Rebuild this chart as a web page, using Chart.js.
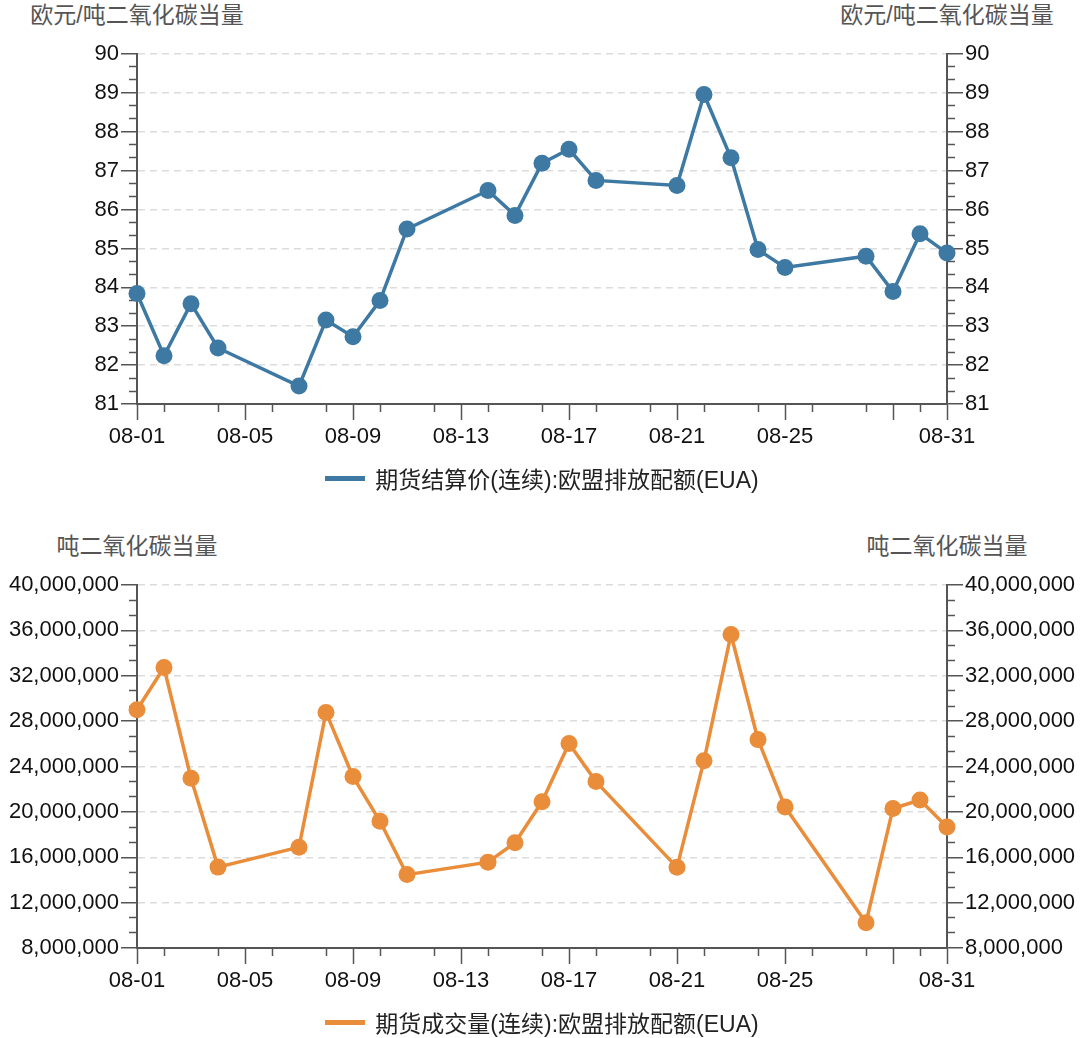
<!DOCTYPE html>
<html><head><meta charset="utf-8">
<script src="https://cdn.jsdelivr.net/npm/chart.js@4/dist/chart.umd.min.js"></script>
<style>
body{margin:0;background:#fff;width:1088px;height:1038px;overflow:hidden;position:relative;font-family:"Liberation Sans","Noto Sans CJK SC",sans-serif}
.unit{position:absolute;font-size:23px;color:#555;transform:translateX(-50%);white-space:nowrap;line-height:23px}
.legend{position:absolute;left:137px;width:810px;height:30px;display:flex;justify-content:center;align-items:center;font-size:23px;color:#222;white-space:nowrap}
.legend .sw{width:40px;height:5px;margin-right:10px}
canvas{position:absolute;left:0}
</style></head>
<body>
<div class="unit" id="u1" style="left:137px;top:4px"></div>
<div class="unit" id="u2" style="left:947px;top:4px"></div>
<div class="unit" id="u3" style="left:137px;top:535px"></div>
<div class="unit" id="u4" style="left:947px;top:535px"></div>
<canvas id="c1" width="1088" height="505" style="top:0"></canvas>
<canvas id="c2" width="1088" height="533" style="top:505px"></canvas>
<div class="legend" id="lg1" style="top:463px"></div>
<div class="legend" id="lg2" style="top:1007px"></div>
<script>
// ---- data ----
const dates = ['08-01','08-02','08-03','08-04','08-07','08-08','08-09','08-10','08-11','08-14','08-15','08-16','08-17','08-18','08-21','08-22','08-23','08-24','08-25','08-28','08-29','08-30','08-31'];
const priceValues = [83.84,82.24,83.58,82.44,81.46,83.16,82.73,83.66,85.50,86.49,85.85,87.19,87.55,86.75,86.62,88.96,87.33,84.97,84.51,84.80,83.89,85.38,84.88];
const volumeValues = [29000000,32730000,22970000,15130000,16890000,28770000,23110000,19170000,14470000,15570000,17280000,20890000,26020000,22670000,15110000,24510000,35640000,26370000,20440000,10230000,20300000,21040000,18670000];
const priceSeriesName = '期货结算价(连续):欧盟排放配额(EUA)';
const volumeSeriesName = '期货成交量(连续):欧盟排放配额(EUA)';
const priceUnit = '欧元/吨二氧化碳当量';
const volumeUnit = '吨二氧化碳当量';
const xTickDays = [1,5,9,13,17,21,25,29,31];
const xTickLabels = ['08-01','08-05','08-09','08-13','08-17','08-21','08-25','','08-31'];
const xMinorDays = [2,4,6,8,10,12,14,16,18,20,22,24,26,28,30];
const priceTicks = [81,82,83,84,85,86,87,88,89,90];
const volumeTicks = [8000000,12000000,16000000,20000000,24000000,28000000,32000000,36000000,40000000];

const FONT = '"Liberation Sans", "Noto Sans CJK SC", sans-serif';
const AXIS = '#555';

document.getElementById('u1').textContent = priceUnit;
document.getElementById('u2').textContent = priceUnit;
document.getElementById('u3').textContent = volumeUnit;
document.getElementById('u4').textContent = volumeUnit;

function legend(id, color, name){
  const el = document.getElementById(id);
  const sw = document.createElement('span'); sw.className='sw'; sw.style.background=color;
  const tx = document.createElement('span'); tx.textContent = name;
  el.appendChild(sw); el.appendChild(tx);
}
legend('lg1','#3d79a3',priceSeriesName);
legend('lg2','#e98d3b',volumeSeriesName);

function dayOf(s){ return parseInt(s.split('-')[1],10); }
function minorsOf(majors){
  const out=[];
  for(let i=0;i<majors.length-1;i++){
    const a=majors[i], b=majors[i+1];
    out.push(a+(b-a)/3, a+2*(b-a)/3);
  }
  return out;
}

function build(canvasId, values, color, yTicks, fmt, padTop, padBottom){
  const yMinor = minorsOf(yTicks);
  const yMin = yTicks[0], yMax = yTicks[yTicks.length-1];
  const majorY = (pos, w, area) => ({
    type:'linear', position:pos, min:yMin, max:yMax, weight:1,
    afterBuildTicks: s => { s.ticks = yTicks.map(v=>({value:v})); },
    afterFit: s => { s.width = w; },
    ticks:{padding:2, color:'#111', font:{size:22, family:FONT}, callback:(v)=>fmt(v)},
    grid:{drawOnChartArea:area, color:'#dcdcdc', lineWidth:1.5, tickLength:16, tickColor:AXIS, tickWidth:1.5},
    border:{display:true, color:AXIS, width:2, dash:[7,5]}
  });
  const minorY = (pos) => ({
    type:'linear', position:pos, min:yMin, max:yMax, weight:0,
    afterBuildTicks: s => { s.ticks = yMinor.map(v=>({value:v})); },
    afterFit: s => { s.width = 0; },
    ticks:{display:false},
    grid:{drawOnChartArea:false, tickLength:8, tickColor:AXIS, tickWidth:1.5},
    border:{display:false}
  });
  return new Chart(document.getElementById(canvasId), {
    type:'line',
    data:{datasets:[{
      data: dates.map((d,i)=>({x:dayOf(d), y:values[i]})),
      borderColor:color, backgroundColor:color, borderWidth:3.5,
      pointRadius:8.5, pointHoverRadius:8.5, pointBackgroundColor:color, pointBorderWidth:0,
      tension:0, clip:false
    }]},
    options:{
      responsive:false, animation:false, devicePixelRatio:1,
      layout:{padding:{top:padTop, bottom:padBottom, left:0, right:0}},
      plugins:{legend:{display:false}, tooltip:{enabled:false}},
      events:[],
      scales:{
        x:{type:'linear', position:'bottom', min:1, max:31, weight:1,
          afterBuildTicks: s => { s.ticks = xTickDays.map(v=>({value:v})); },
          afterFit: s => { s.height = 50; },
          ticks:{autoSkip:false, maxRotation:0, minRotation:0, padding:4, color:'#111', font:{size:22, family:FONT},
            callback:(v,i)=>xTickLabels[i]},
          grid:{drawOnChartArea:false, tickLength:16, tickColor:AXIS, tickWidth:1.5},
          border:{display:true, color:AXIS, width:2}
        },
        xm:{type:'linear', position:'bottom', min:1, max:31, weight:0,
          afterBuildTicks: s => { s.ticks = xMinorDays.map(v=>({value:v})); },
          afterFit: s => { s.height = 0; },
          ticks:{display:false},
          grid:{drawOnChartArea:false, tickLength:8, tickColor:AXIS, tickWidth:1.5},
          border:{display:false}
        },
        y: majorY('left', 137, true),
        ym: minorY('left'),
        y2: majorY('right', 141, false),
        y2m: minorY('right')
      }
    }
  });
}

build('c1', priceValues, '#3d79a3', priceTicks, v=>String(v), 54, 51);
build('c2', volumeValues, '#e98d3b', volumeTicks, v=>Number(v).toLocaleString('en-US'), 80, 40);
</script>
</body></html>
